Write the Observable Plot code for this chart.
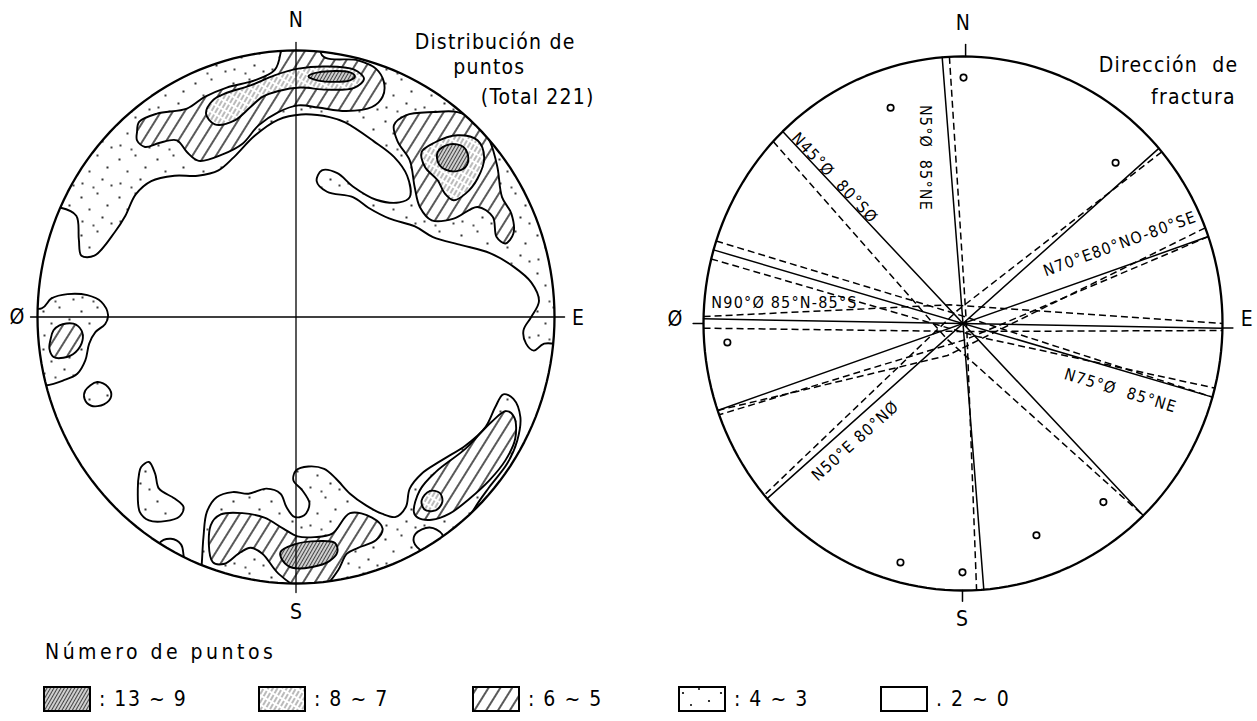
<!DOCTYPE html>
<html><head><meta charset="utf-8">
<script src="https://cdn.jsdelivr.net/npm/d3@7"></script>
<script src="https://cdn.jsdelivr.net/npm/@observablehq/plot@0.6"></script>
<style>
body{margin:0;background:#fff;font-family:"DejaVu Sans Condensed","DejaVu Sans",sans-serif;color:#000}
#root{position:relative;width:1257px;height:721px;overflow:hidden;background:#fff}
#left{position:absolute;left:0;top:0}
#right{position:absolute;left:628px;top:0}
#legend{position:absolute;left:0;top:630px;width:1257px;height:91px}
#legend .ttl{position:absolute;left:45px;top:10px;font-size:21px;letter-spacing:3.5px}
#legend .item{position:absolute;top:56px;display:flex;align-items:center;font-size:21px}
#legend .item span{margin-left:8px;letter-spacing:1.5px}
</style></head>
<body>
<svg width="0" height="0" style="position:absolute">
<defs>
<pattern id="pStip" width="38" height="38" patternUnits="userSpaceOnUse">
<rect width="38" height="38" fill="white"/>
<circle cx="5" cy="7" r="1.1"/><circle cx="21" cy="3" r="1"/><circle cx="31" cy="15" r="1.1"/>
<circle cx="13" cy="19" r="1"/><circle cx="26" cy="27" r="1.1"/><circle cx="6" cy="31" r="1"/>
<circle cx="17" cy="35" r="0.9"/><circle cx="35" cy="33" r="1"/>
</pattern>
<pattern id="pHatch" width="10" height="10" patternUnits="userSpaceOnUse" patternTransform="rotate(32)">
<rect width="10" height="10" fill="white"/>
<line x1="5" y1="0" x2="5" y2="10" stroke="black" stroke-width="1.3"/>
</pattern>
<pattern id="pLight" width="4" height="8" patternUnits="userSpaceOnUse" patternTransform="rotate(30)">
<rect width="4" height="8" fill="white"/>
<line x1="2" y1="0" x2="2" y2="6" stroke="#666" stroke-width="0.9"/>
</pattern>
<pattern id="pDark" width="3" height="3" patternUnits="userSpaceOnUse" patternTransform="rotate(30)">
<rect width="3" height="3" fill="#cfcfcf"/>
<line x1="1.5" y1="0" x2="1.5" y2="3" stroke="#444" stroke-width="1"/>
</pattern>
</defs>
</svg>
<div id="root">
<div id="left"></div>
<div id="right"></div>
<div id="legend"></div>
</div>
<script>
// ---------- Left net: contour polygons (unit circle = 100) ----------
const level3Shapes = [
 [[-115,40],[-91,41],[-85,38],[-84,29],[-83,23],[-78,23],[-70,32],[-66,38],[-62,46],[-56,51],[-47,53],[-38,53],[-30,55],[-24,60],[-16,68],[-7,74],[2,76],[13,75],[19,73],[30,66],[38,60],[43,53],[44,45],[40,43],[31,44],[22,49],[16,54],[10,55],[8,51],[12,47],[22,45],[28,41],[36,37],[46,34],[53,30],[64,27],[75,24],[84,19],[91,13],[94,6],[91,0],[88,-5],[89,-10],[92,-12.6],[96,-10],[115,-9],[115,115],[-115,115]],
 [[-98.4,3.2],[-94.6,7],[-88.4,8.6],[-80.7,8.2],[-75.3,5.7],[-72.7,0.7],[-73.8,-2.6],[-77.6,-5.7],[-80,-10],[-81.5,-16.3],[-84.6,-21.3],[-90,-23.8],[-96.9,-25.7],[-115,-26],[-115,4]],
 [[-81.5,-27.6],[-76.9,-24.4],[-72.7,-26.3],[-71.5,-29.8],[-74.3,-32.8],[-79.2,-33.3],[-81.8,-30.7]],
 [[-59.9,-56.3],[-56.9,-54.4],[-54.5,-58.8],[-53,-64.4],[-46.8,-68.2],[-43.5,-71.3],[-45,-74.8],[-50.7,-76.6],[-56.9,-76.3],[-60.4,-73.2],[-61.2,-65],[-60.7,-58.8]],
 [[-53,-85],[-48.4,-83.2],[-44.5,-85.3],[-43.5,-89.4],[-42,-115],[-58,-115]],
 [[-36.8,-96.3],[-35.8,-82.6],[-34.5,-73.2],[-30.7,-67.6],[-24.5,-65.7],[-18.4,-66.3],[-11.4,-64.4],[-6,-66.3],[-3.7,-71.3],[-0.6,-75],[3.2,-74.4],[5.2,-70],[2.4,-65],[-1,-61.3],[0,-57.6],[4.8,-56.1],[10.9,-57],[15.5,-60.7],[20.9,-66.3],[27.1,-70.7],[33.2,-73.8],[38.6,-75],[42.5,-71.3],[44,-64.4],[48.6,-58.8],[56.3,-53.8],[65.6,-48.2],[73.3,-41.3],[77.1,-33.8],[80.2,-29],[84.1,-30.7],[86.8,-37.6],[85.6,-46.3],[81.7,-55],[74.8,-63.8],[69.4,-71.3],[66.4,-77.6],[80,-115],[-40,-115]]
];
const holeShapes = [
 [[46.3,-81.3],[51.7,-79],[56.6,-81.6],[55.6,-86.3],[48.9,-87.8],[45.6,-84.4]]
];
const level5Shapes = [
 [[-61.5,69.4],[-60.7,73.2],[-53.8,76.3],[-42.2,78.2],[-35.3,82.6],[-26.8,86.1],[-16,88.8],[-8.3,92.6],[-6,99],[-6,115],[10,115],[10.1,98.2],[24,96.3],[30.9,93.2],[34,88.2],[33.5,82.6],[29.4,78.8],[19.4,77.3],[8.6,78.6],[0.9,79.4],[-6.8,76.9],[-14.5,71.9],[-20.7,65],[-28.4,61],[-37.6,58.6],[-42.2,61.9],[-46.1,66.3],[-53,65.3],[-58.4,63.8],[-61.5,66.3]],
 [[-91.5,-3.1],[-86.1,-2.5],[-83,-5],[-82.6,-8.8],[-85.3,-13.2],[-90,-15.3],[-93.8,-15],[-95.4,-11.9],[-94.9,-8.2],[-93.8,-5]],
 [[37.9,72],[42.5,75.7],[53.3,76.9],[62.5,76.9],[70.2,73.2],[75.1,65.7],[77.9,56.3],[79.7,45],[83.3,38.8],[84.1,31.3],[81,27.6],[77.6,30],[76.1,37.6],[70.2,41.3],[61,36.9],[52.5,36.3],[47.9,41.3],[45.9,48.8],[44,58.8],[39.4,65.7]],
 [[-33,-78.2],[-29.1,-74.1],[-20.7,-73.6],[-12.2,-75.3],[-4.9,-79.4],[0.6,-82.3],[7.1,-82.6],[14,-81.3],[20.9,-73.6],[29.4,-75.3],[33.5,-79.4],[30.9,-83.8],[24,-86.6],[19.7,-88.8],[16.3,-95],[10.9,-101],[2.4,-102],[-6.8,-96.3],[-13,-88.8],[-17.6,-86.6],[-22.2,-88.8],[-27.6,-92.6],[-32.2,-92]],
 [[45.6,-73.2],[47.9,-65],[54,-58.2],[65.6,-49.4],[75.6,-39.4],[81.3,-35.3],[84.4,-37.6],[84.8,-45.7],[81,-53.8],[74.8,-61.3],[67.1,-68.2],[59.4,-73.8],[52.5,-76.1],[47.1,-75.3]]
];
const level7Shapes = [
 [[-34.8,76.3],[-32.2,81.3],[-27.6,83.8],[-17.6,86.9],[-8.3,90.7],[0.9,93.2],[11.7,94],[22.5,92.8],[26.3,89.4],[22.5,86],[11.7,85.3],[1.7,86.1],[-6.8,84.8],[-13,82.6],[-17.6,78.8],[-23.7,73.8],[-31.4,72.3]],
 [[48.6,61.9],[53.3,65.3],[62.5,68.2],[70.2,66.3],[72.8,59.8],[70.2,51.9],[65.6,46.3],[61,43.8],[57.6,46.3],[54.8,51.3],[49.9,56.3]],
 [[48.6,-68.8],[51.7,-65.3],[55.6,-66],[56.6,-69.4],[54,-72.6],[49.7,-72.2]]
];
const level9Shapes = [
 [[4.8,90.3],[8.6,91.8],[20.9,91.8],[22.8,90.3],[20.9,88.8],[8.6,88.7]],
 [[55.3,57.3],[54.8,61.9],[59.4,64.8],[64.8,63.8],[66.7,59.4],[64.8,55.6],[59.4,54.8]],
 [[-6,-88.2],[-0.6,-85.3],[8.6,-84.1],[15.1,-84.8],[16,-88.2],[12.9,-91.6],[6.3,-93.8],[-1.4,-94.1],[-5,-91.6]]
];
const leftAxes = [[[0,103],[0,-103.4]],[[-102.7,0],[103.9,0]]];
const leftCardinals = [{t:"N",u:0.2,v:111.3},{t:"S",u:0.2,v:-110.9},{t:"Ø",u:-107.7,v:0},{t:"E",u:109.3,v:-0.6}];
const leftTitle = [{t:"Distribución de",u:77,v:103},{t:"puntos",u:74.8,v:93.6},{t:"(Total 221)",u:93.5,v:82.4}];

// ---------- Right net: fracture directions ----------
const solidStrikes = [-4.6, -44, 49, 71, -74, 91];
// [start azimuth, end azimuth, bend point u, bend point v]
const dashedPlanes = [
 [-3,177,1.5,-3],[-47,136,-6,-6],[50,230,-2,5],[71,250,1,-6],[69,251,-6,-12],
 [-72,106,-4,4],[-76,104,6,-5],[-88.5,90,-5,7],[-91,91.5,0,-3]
];
const poles = [[0.2,92.1],[-27.9,80.8],[58.8,60.2],[-90.8,-7.1],[54.1,-66.9],[28.3,-79.3],[-0.2,-93.2],[-24.1,-89.5]];
const rightTicks = [[[1,100],[1,104.5]],[[-0.2,-100],[-0.2,-104]],[[-104,0],[-100,0]],[[100,-1.7],[104,-1.7]]];
const rightCardinals = [{t:"N",u:0.2,v:112.4},{t:"S",u:-0.2,v:-110.9},{t:"Ø",u:-110.8,v:1.5},{t:"E",u:109.6,v:1.5}];
const rightTitle = [{t:"Dirección  de",u:79.2,v:96.6},{t:"fractura",u:88.8,v:84.6}];
const planeLabels = [
 {t:"N5°Ø  85°NE",u:-14.5,v:62,r:90},
 {t:"N45°Ø  80°SØ",u:-49.5,v:54.5,r:47},
 {t:"N70°E80°NO-80°SE",u:60.5,v:29.8,r:-20},
 {t:"N90°Ø 85°N-85°S",u:-68.8,v:7.9,r:0},
 {t:"N75°Ø  85°NE",u:60.7,v:-25.2,r:17},
 {t:"N50°E 80°NØ",u:-41.4,v:-44,r:-42}
];

// ---------- Legend ----------
const legendLabels = [": 13 ~ 9", ": 8 ~ 7", ": 6 ~ 5", ": 4 ~ 3", ". 2 ~ 0"];
const legendFills = ["url(#pDark)","url(#pLight)","url(#pHatch)","url(#pStip)","white"];

// ---------- build ----------
const FONT = '"DejaVu Sans Condensed","DejaVu Sans",sans-serif';
const toRows = (shapes, key) => shapes.flatMap((pts,i) => pts.map(([u,v]) => ({id:key+i,u,v})));
const rim = d3.range(0,361,2).map(a => ({u:100*Math.sin(a*Math.PI/180), v:100*Math.cos(a*Math.PI/180)}));
const rad = a => a*Math.PI/180;
const CONTOUR_W = 1.9;

function contour(shapes, key, fill){
  return Plot.line(toRows(shapes,key), {x:"u", y:"v", z:"id", curve:"catmull-rom-closed",
    fill, stroke:"black", strokeWidth:CONTOUR_W});
}

const left = Plot.plot({
  width:628, height:630, margin:0,
  x:{domain:[-100,100], range:[37,554], axis:null},
  y:{domain:[-100,100], range:[583,50], axis:null},
  style:{fontFamily:FONT, background:"white", overflow:"visible", letterSpacing:"1.2px"},
  marks:[
    contour(level3Shapes,"s","url(#pStip)"),
    contour(holeShapes,"w","white"),
    contour(level5Shapes,"h","url(#pHatch)"),
    contour(level7Shapes,"l","url(#pLight)"),
    contour(level9Shapes,"d","url(#pDark)"),
    Plot.line(toRows(leftAxes,"a"), {x:"u", y:"v", z:"id", stroke:"black", strokeWidth:1.3}),
    Plot.line(rim, {x:"u", y:"v", stroke:"black", strokeWidth:2.3}),
    Plot.text(leftCardinals, {x:"u", y:"v", text:"t", fontSize:21}),
    Plot.text(leftTitle, {x:"u", y:"v", text:"t", fontSize:21})
  ]
});
// clip contours to the net
{
  const sx = left.scale("x"), sy = left.scale("y");
  const cx = sx.apply(0), cy = sy.apply(0);
  const s = d3.select(left);
  s.append("defs").append("clipPath").attr("id","clipL").append("ellipse")
    .attr("cx",cx).attr("cy",cy).attr("rx",sx.apply(100)-cx).attr("ry",cy-sy.apply(100));
  s.selectAll("g").filter(function(){ return this.getAttribute("stroke-width") === String(CONTOUR_W); })
    .attr("clip-path","url(#clipL)");
}
document.getElementById("left").append(left);

const solidRows = solidStrikes.flatMap((a,i) => [
  {id:"p"+i, u:100*Math.sin(rad(a)), v:100*Math.cos(rad(a))},
  {id:"p"+i, u:-100*Math.sin(rad(a)), v:-100*Math.cos(rad(a))}
]);
const dashedRows = dashedPlanes.flatMap(([a0,a1,mu,mv],i) => [
  {id:"q"+i, u:100*Math.sin(rad(a0)), v:100*Math.cos(rad(a0))},
  {id:"q"+i, u:mu, v:mv},
  {id:"q"+i, u:100*Math.sin(rad(a1)), v:100*Math.cos(rad(a1))}
]);
const poleRows = poles.map(([u,v]) => ({u,v}));

const right = Plot.plot({
  width:629, height:630, margin:0,
  x:{domain:[-100,100], range:[75,594], axis:null},
  y:{domain:[-100,100], range:[590,56], axis:null},
  style:{fontFamily:FONT, background:"white", overflow:"visible", letterSpacing:"1.2px"},
  marks:[
    Plot.line(dashedRows, {x:"u", y:"v", z:"id", stroke:"black", strokeWidth:1.5, strokeDasharray:"7,4", strokeLinecap:"butt"}),
    Plot.line(solidRows, {x:"u", y:"v", z:"id", stroke:"black", strokeWidth:1.5}),
    Plot.line(toRows(rightTicks,"t"), {x:"u", y:"v", z:"id", stroke:"black", strokeWidth:1.5}),
    Plot.line(rim, {x:"u", y:"v", stroke:"black", strokeWidth:2.3}),
    Plot.dot(poleRows, {x:"u", y:"v", r:3.2, stroke:"black", fill:"white", strokeWidth:1.7}),
    Plot.text(planeLabels, {x:"u", y:"v", text:"t", rotate:"r", fontSize:16}),
    Plot.text(rightCardinals, {x:"u", y:"v", text:"t", fontSize:21}),
    Plot.text(rightTitle, {x:"u", y:"v", text:"t", fontSize:21})
  ]
});
document.getElementById("right").append(right);

// legend
const legendLeft = [43, 258, 472, 678, 880];
const lg = document.getElementById("legend");
const ttl = document.createElement("div"); ttl.className = "ttl"; ttl.textContent = "Número de puntos"; lg.append(ttl);
legendLabels.forEach((lab,i) => {
  const it = document.createElement("div"); it.className = "item"; it.style.left = legendLeft[i]+"px";
  it.innerHTML = `<svg width="48" height="26"><rect x="1" y="1" width="46" height="24" fill="${legendFills[i]}" stroke="black" stroke-width="2"/></svg><span>${lab}</span>`;
  lg.append(it);
});
</script>
</body></html>
